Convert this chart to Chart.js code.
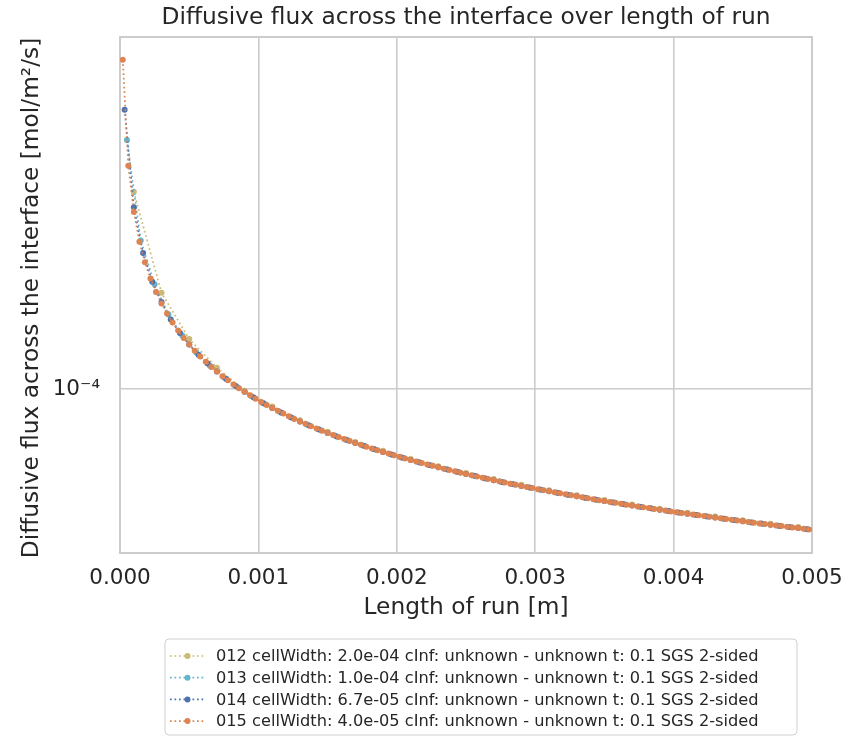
<!DOCTYPE html>
<html><head><meta charset="utf-8">
<script src="https://cdn.jsdelivr.net/npm/chart.js@4.4.1/dist/chart.umd.min.js"></script>
<style>html,body{margin:0;padding:0;background:#fff}canvas{display:block}</style>
</head><body>
<canvas id="c" width="860" height="737"></canvas>
<script>
// Values are stored in units of 1e-5 (x in metres ×1e-5, flux in mol/m²/s ×1e-5)
const UNIT = 1e-5;

const chartTitle = 'Diffusive flux across the interface over length of run';
const xAxisTitle = 'Length of run [m]';
const yAxisTitle = 'Diffusive flux across the interface [mol/m\u00B2/s]';

const seriesLabels = [
  '012 cellWidth: 2.0e-04 cInf: unknown - unknown t: 0.1 SGS 2-sided',
  '013 cellWidth: 1.0e-04 cInf: unknown - unknown t: 0.1 SGS 2-sided',
  '014 cellWidth: 6.7e-05 cInf: unknown - unknown t: 0.1 SGS 2-sided',
  '015 cellWidth: 4.0e-05 cInf: unknown - unknown t: 0.1 SGS 2-sided'
];
const seriesColors = ['#ccb974', '#64b5cd', '#4c72b0', '#dd8452'];

const xTickValues = [0, 0.001, 0.002, 0.003, 0.004, 0.005];
const yTickValues = [1e-4];
const yTickLabels = ['10\u207B\u2074'];

// 012
const x012 = [10,30,50,70,90,110,130,150,170,190,210,230,250,270,290,310,330,350,370,390,410,430,450,470,490,510];
const flux012 = [34.1,18.2,13.65,11.42,9.90,8.98,8.237,7.668,7.203,6.814,6.481,6.193,5.940,5.716,5.515,5.334,5.170,5.020,4.883,4.756,4.638,4.529,4.427,4.332,4.243,4.159];

// 013
const x013 = [5,15,25,35,45,55,65,75,85,95,105,115,125,135,145,155,165,175,185,195,205,215,225,235,245,255,265,275,285,295,305,315,325,335,345,355,365,375,385,395,405,415,425,435,445,455,465,475,485,495,505];
const flux013 = [47.1,25.2,19.2,15.9,13.95,12.58,11.57,10.77,10.12,9.571,9.104,8.699,8.344,8.029,7.747,7.493,7.262,7.052,6.859,6.680,6.516,6.362,6.219,6.085,5.960,5.842,5.731,5.626,5.526,5.432,5.342,5.256,5.175,5.097,5.022,4.951,4.883,4.817,4.754,4.694,4.636,4.579,4.525,4.473,4.422,4.373,4.326,4.280,4.236,4.193,4.151];

// 014
const x014 = [3.333,10,16.67,23.33,30,36.67,43.33,50,56.67,63.33,70,76.67,83.33,90,96.67,103.33,110,116.67,123.33,130,136.67,143.33,150,156.67,163.33,170,176.67,183.33,190,196.67,203.33,210,216.67,223.33,230,236.67,243.33,250,256.67,263.33,270,276.67,283.33,290,296.67,303.33,310,316.67,323.33,330,336.67,343.33,350,356.67,363.33,370,376.67,383.33,390,396.67,403.33,410,416.67,423.33,430,436.67,443.33,450,456.67,463.33,470,476.67,483.33,490,496.67,503.33];
const flux014 = [56.8,31.0,23.3,19.5,17.2,15.41,14.17,13.19,12.39,11.72,11.15,10.65,10.22,9.833,9.488,9.177,8.895,8.637,8.400,8.182,7.980,7.792,7.617,7.453,7.299,7.155,7.019,6.890,6.768,6.652,6.542,6.437,6.338,6.242,6.151,6.064,5.980,5.900,5.823,5.749,5.677,5.609,5.542,5.478,5.416,5.356,5.298,5.242,5.188,5.135,5.084,5.035,4.986,4.940,4.894,4.850,4.807,4.765,4.724,4.684,4.645,4.607,4.570,4.534,4.499,4.464,4.431,4.398,4.365,4.334,4.303,4.273,4.243,4.214,4.186,4.158];

// 015
const x015 = [2,6,10,14,18,22,26,30,34,38,42,46,50,54,58,62,66,70,74,78,82,86,90,94,98,102,106,110,114,118,122,126,130,134,138,142,146,150,154,158,162,166,170,174,178,182,186,190,194,198,202,206,210,214,218,222,226,230,234,238,242,246,250,254,258,262,266,270,274,278,282,286,290,294,298,302,306,310,314,318,322,326,330,334,338,342,346,350,354,358,362,366,370,374,378,382,386,390,394,398,402,406,410,414,418,422,426,430,434,438,442,446,450,454,458,462,466,470,474,478,482,486,490,494,498,502];
const flux015 = [77.5,40.1,30.1,25.0,22.0,19.9,18.3,17.03,16.0,15.13,14.39,13.75,13.19,12.70,12.25,11.85,11.48,11.15,10.84,10.56,10.30,10.06,9.834,9.622,9.424,9.237,9.061,8.895,8.737,8.588,8.446,8.311,8.182,8.059,7.941,7.829,7.721,7.617,7.517,7.422,7.330,7.241,7.155,7.072,6.992,6.915,6.840,6.768,6.698,6.630,6.564,6.500,6.438,6.377,6.318,6.261,6.206,6.151,6.099,6.047,5.997,5.948,5.900,5.854,5.808,5.763,5.720,5.677,5.636,5.595,5.555,5.516,5.478,5.441,5.404,5.368,5.333,5.299,5.265,5.231,5.199,5.167,5.135,5.105,5.074,5.045,5.015,4.987,4.958,4.931,4.903,4.876,4.850,4.824,4.798,4.773,4.748,4.724,4.700,4.676,4.653,4.630,4.607,4.585,4.563,4.541,4.520,4.499,4.478,4.458,4.437,4.417,4.398,4.378,4.359,4.340,4.322,4.303,4.285,4.267,4.249,4.232,4.214,4.197,4.180,4.164];

const seriesX = [x012, x013, x014, x015];
const seriesY = [flux012, flux013, flux014, flux015];

const FONT = "'DejaVu Sans', 'Liberation Sans', sans-serif";
const TEXT = '#262626';
const GRID = '#cccccc';

const datasets = seriesLabels.map((label, s) => ({
  label,
  data: seriesX[s].map((x, i) => ({ x: x * UNIT, y: seriesY[s][i] * UNIT })),
  borderColor: seriesColors[s],
  backgroundColor: seriesColors[s],
  pointBackgroundColor: seriesColors[s],
  borderWidth: 1.7,
  borderDash: [1.7, 2.8],
  borderCapStyle: 'butt',
  pointRadius: 3,
  pointHoverRadius: 3,
  pointBorderWidth: 0,
  showLine: true,
  fill: false,
  tension: 0,
  order: 3 - s
}));

const decor = {
  id: 'decor',
  beforeDatasetsDraw(chart) {
    const { ctx, chartArea: a } = chart;
    ctx.save();
    ctx.strokeStyle = GRID;
    ctx.lineWidth = 2;
    ctx.strokeRect(a.left, a.top, a.right - a.left, a.bottom - a.top);
    ctx.restore();
  },
  afterDraw(chart) {
    const { ctx, chartArea: a } = chart;
    const cx = (a.left + a.right) / 2;
    ctx.save();
    ctx.fillStyle = TEXT;
    ctx.textAlign = 'center';
    ctx.textBaseline = 'middle';
    ctx.font = '23.3px ' + FONT;
    ctx.fillText(chartTitle, cx, 18);
    ctx.fillText(xAxisTitle, cx, 608);
    ctx.save();
    ctx.translate(32, (a.top + a.bottom) / 2 + 3);
    ctx.rotate(-Math.PI / 2);
    ctx.fillText(yAxisTitle, 0, 0);
    ctx.restore();

    // legend
    const bx = 165, by = 639, bw = 632, bh = 96, r = 4;
    ctx.beginPath();
    ctx.moveTo(bx + r, by);
    ctx.arcTo(bx + bw, by, bx + bw, by + bh, r);
    ctx.arcTo(bx + bw, by + bh, bx, by + bh, r);
    ctx.arcTo(bx, by + bh, bx, by, r);
    ctx.arcTo(bx, by, bx + bw, by, r);
    ctx.closePath();
    ctx.fillStyle = 'rgba(255,255,255,0.8)';
    ctx.fill();
    ctx.strokeStyle = '#d0d0d0';
    ctx.lineWidth = 1;
    ctx.stroke();

    ctx.font = '16.2px ' + FONT;
    ctx.textAlign = 'left';
    seriesLabels.forEach((label, s) => {
      const yy = 656 + s * 21.7;
      ctx.strokeStyle = seriesColors[s];
      ctx.lineWidth = 1.7;
      ctx.setLineDash([1.7, 2.8]);
      ctx.beginPath();
      ctx.moveTo(170, yy);
      ctx.lineTo(205, yy);
      ctx.stroke();
      ctx.setLineDash([]);
      ctx.fillStyle = seriesColors[s];
      ctx.beginPath();
      ctx.arc(187.5, yy, 3, 0, Math.PI * 2);
      ctx.fill();
      ctx.fillStyle = TEXT;
      ctx.fillText(label, 216, yy + 1);
    });
    ctx.restore();
  }
};

new Chart(document.getElementById('c'), {
  type: 'line',
  data: { datasets },
  plugins: [decor],
  options: {
    responsive: false,
    animation: false,
    devicePixelRatio: 1,
    layout: { padding: { left: 0, top: 37, right: 48, bottom: 0 } },
    plugins: { legend: { display: false }, title: { display: false }, tooltip: { enabled: false } },
    scales: {
      x: {
        type: 'linear',
        min: 0, max: 0.005,
        afterBuildTicks(ax) { ax.ticks = xTickValues.map(v => ({ value: v })); },
        afterFit(s) { s.height = 737 - 553; },
        ticks: { callback: v => Number(v).toFixed(3), font: { family: FONT, size: 21.5 }, color: TEXT, padding: 13, maxRotation: 0, autoSkip: false },
        grid: { color: GRID, lineWidth: 1.6, drawTicks: false },
        border: { display: false }
      },
      y: {
        type: 'logarithmic',
        min: 3.61e-5, max: 8.93e-4,
        afterBuildTicks(ax) { ax.ticks = yTickValues.map(v => ({ value: v })); },
        afterFit(s) { s.width = 120; },
        ticks: {
          callback: (v) => { const k = yTickValues.indexOf(v); return k >= 0 ? yTickLabels[k] : ''; },
          font: { family: FONT, size: 21.5 }, color: TEXT, padding: 20, autoSkip: false
        },
        grid: { color: GRID, lineWidth: 1.6, drawTicks: false },
        border: { display: false }
      }
    }
  }
});
</script>
</body></html>
